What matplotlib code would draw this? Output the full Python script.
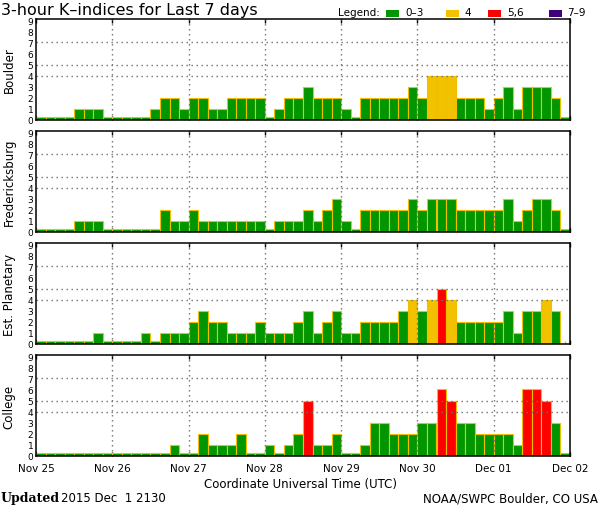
import matplotlib
matplotlib.use("Agg")
import matplotlib.pyplot as plt
from matplotlib.patches import Rectangle
import numpy as np

# 3-hour K-index values, 8 per day, Nov 25 .. Dec 01 (None = not yet available)
stations = ["Boulder", "Fredericksburg", "Est. Planetary", "College"]
day_labels = ["Nov 25", "Nov 26", "Nov 27", "Nov 28", "Nov 29", "Nov 30", "Dec 01", "Dec 02"]

boulder = [0, 0, 0, 0, 1, 1, 1, 0,
           0, 0, 0, 0, 1, 2, 2, 1,
           2, 2, 1, 1, 2, 2, 2, 2,
           0, 1, 2, 2, 3, 2, 2, 2,
           1, 0, 2, 2, 2, 2, 2, 3,
           2, 4, 4, 4, 2, 2, 2, 1,
           2, 3, 1, 3, 3, 3, 2, 0]
fredericksburg = [0, 0, 0, 0, 1, 1, 1, 0,
                  0, 0, 0, 0, 0, 2, 1, 1,
                  2, 1, 1, 1, 1, 1, 1, 1,
                  0, 1, 1, 1, 2, 1, 2, 3,
                  1, 0, 2, 2, 2, 2, 2, 3,
                  2, 3, 3, 3, 2, 2, 2, 2,
                  2, 3, 1, 2, 3, 3, 2, 0]
planetary = [0, 0, 0, 0, 0, 0, 1, 0,
             0, 0, 0, 1, 0, 1, 1, 1,
             2, 3, 2, 2, 1, 1, 1, 2,
             1, 1, 1, 2, 3, 1, 2, 3,
             1, 1, 2, 2, 2, 2, 3, 4,
             3, 4, 5, 4, 2, 2, 2, 2,
             2, 3, 1, 3, 3, 4, 3, None]
college = [0, 0, 0, 0, 0, 0, 0, 0,
           0, 0, 0, 0, 0, 0, 1, 0,
           0, 2, 1, 1, 1, 2, 0, 0,
           1, 0, 1, 2, 5, 1, 1, 2,
           0, 0, 1, 3, 3, 2, 2, 2,
           3, 3, 6, 5, 3, 3, 2, 2,
           2, 2, 1, 6, 6, 5, 3, 0]
all_values = [boulder, fredericksburg, planetary, college]

legend_labels = ["0-3", "4", "5,6", "7-9"]
GREEN = "#009600"
YELLOW = "#F2C200"
RED = "#FF0000"
PURPLE = "#400080"
EDGE = "#F0C000"
legend_colors = [GREEN, YELLOW, RED, PURPLE]


def k_color(k):
    if k <= 3:
        return GREEN
    if k == 4:
        return YELLOW
    if k <= 6:
        return RED
    return PURPLE


W, H = 600, 510
fig = plt.figure(figsize=(W / 100, H / 100), dpi=100)
fig.patch.set_facecolor("white")

left_px, right_px = 36, 570
panel_tops = [20, 132, 244, 356]
panel_h = 101
dotted = (0, (1, 2.6))

for n, (name, vals) in enumerate(zip(stations, all_values)):
    top = panel_tops[n]
    ax = fig.add_axes([left_px / W, 1 - (top + panel_h) / H,
                       (right_px - left_px) / W, panel_h / H])
    hours = np.arange(len(vals)) * 3
    for h, k in zip(hours, vals):
        if k is None:
            continue
        # K = 0 is still drawn as a thin strip, like the original
        ax.bar(h, max(k, 0.28), width=3, align="edge", color=k_color(k),
               edgecolor=EDGE, linewidth=0.8, zorder=2)

    # dotted grid: day boundaries and K = 4, 5, 7
    for d in range(1, 7):
        ax.axvline(d * 24, color="#707070", lw=1, ls=dotted, zorder=3)
    for y in [4, 5, 7]:
        ax.axhline(y, color="#707070", lw=1, ls=dotted, zorder=3)

    ax.set_xlim(0, 168)
    ax.set_ylim(0, 9.1)
    ax.set_yticks(range(10))
    ax.set_yticklabels([str(i) for i in range(10)], fontsize=6.5)
    ax.set_xticks(np.arange(8) * 24)
    ax.set_xticks(hours + 1.5, minor=True)
    ax.tick_params(axis="x", which="major", direction="in", length=3,
                   top=True, bottom=True, color="black", width=1)
    ax.tick_params(axis="x", which="minor", direction="in", length=2.5,
                   top=False, bottom=True, color=EDGE, width=1)
    ax.tick_params(axis="y", length=0, pad=2)
    if n == 3:
        ax.set_xticklabels(day_labels, fontsize=7.5)
        ax.tick_params(axis="x", which="major", pad=5)
    else:
        ax.set_xticklabels([])
    for sp in ax.spines.values():
        sp.set_linewidth(1.1)
        sp.set_zorder(4)
    ax.set_ylabel(name, fontsize=8.5)
    ax.yaxis.set_label_coords(-0.038, 0.5)

# title, legend and footer texts
fig.text(1 / W, 1 - 11 / H, "3-hour K\u2013indices for Last 7 days",
         fontsize=11.5, va="center", ha="left")
fig.text(338 / W, 1 - 13 / H, "Legend:", fontsize=7.5, va="center")
box_x = [386, 446, 488, 549]
text_x = [405, 464, 507, 567]
for lab, col, bx, tx in zip(legend_labels, legend_colors, box_x, text_x):
    fig.add_artist(Rectangle((bx / W, 1 - 18 / H), 13 / W, 7 / H,
                             facecolor=col, edgecolor="none",
                             transform=fig.transFigure))
    fig.text(tx / W, 1 - 13 / H, lab.replace("-", "\u2013"), fontsize=7.5,
             va="center")

fig.text(300 / W, 1 - 485 / H, "Coordinate Universal Time (UTC)",
         fontsize=8.5, ha="center", va="center")
fig.text(1 / W, 1 - 499 / H, "Updated", fontsize=9, fontweight="bold",
         family="DejaVu Serif", va="center")
fig.text(61 / W, 1 - 499 / H, "2015 Dec  1 2130", fontsize=8.5, va="center")
fig.text(598 / W, 1 - 499 / H, "NOAA/SWPC Boulder, CO USA", fontsize=8.5,
         ha="right", va="center")

fig.savefig("out.png", dpi=100)
